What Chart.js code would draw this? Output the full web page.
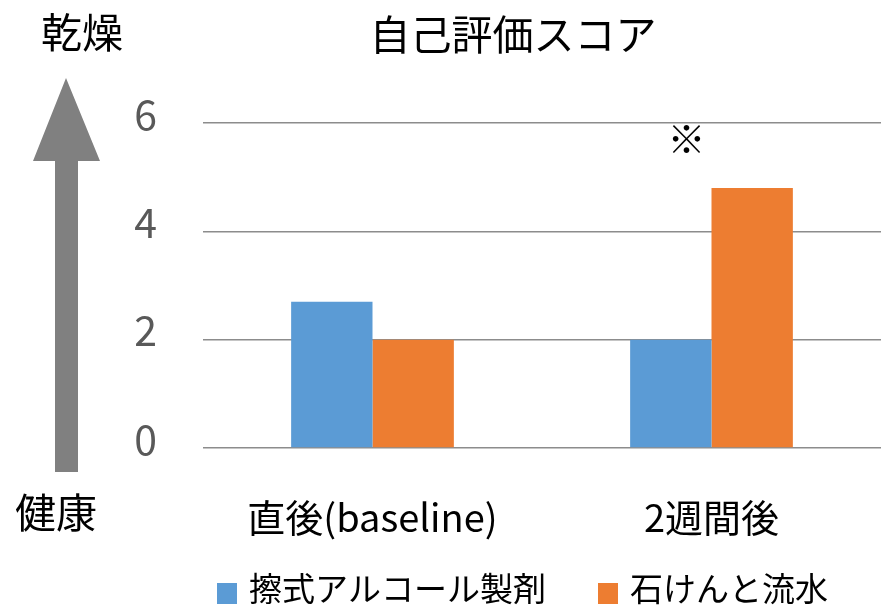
<!DOCTYPE html>
<html>
<head>
<meta charset="utf-8">
<script src="https://cdn.jsdelivr.net/npm/chart.js@4/dist/chart.umd.min.js"></script>
<style>
  html, body { margin: 0; padding: 0; background: #fff; }
  #wrap { width: 881px; height: 607px; position: relative; }
</style>
</head>
<body>
<div id="wrap"><canvas id="chart"></canvas></div>
<script>
const FONT = '"Noto Sans CJK JP", "Noto Sans", sans-serif';

const categories = ['直後(baseline)', '2週間後'];
const alcoholScores = [2.7, 2.0];
const soapScores = [2.0, 4.8];
const seriesNames = ['擦式アルコール製剤', '石けんと流水'];
const yTicks = [0, 2, 4, 6];

const titleText = '自己評価スコア';
const topLabel = '乾燥';
const bottomLabel = '健康';
const markText = '※';

const blue = '#5B9BD5';
const orange = '#ED7D31';

// title, side arrow, significance mark and legend
const decorations = {
    id: 'decorations',
    afterDraw(c) {
        const ctx = c.ctx;
        const x = c.scales.x;
        const y = c.scales.y;
        ctx.save();

        ctx.fillStyle = '#000';
        ctx.textAlign = 'center';
        ctx.textBaseline = 'middle';
        ctx.font = '41px ' + FONT;
        ctx.fillText(titleText, 513, 34);

        ctx.font = '41px ' + FONT;
        ctx.fillText(topLabel, 82, 32);
        ctx.fillText(bottomLabel, 56, 512);

        // arrow pointing up
        ctx.fillStyle = '#808080';
        ctx.beginPath();
        ctx.moveTo(66, 78);
        ctx.lineTo(100, 161);
        ctx.lineTo(78, 161);
        ctx.lineTo(78, 472);
        ctx.lineTo(55, 472);
        ctx.lineTo(55, 161);
        ctx.lineTo(33, 161);
        ctx.closePath();
        ctx.fill();

        // mark above the second group
        ctx.fillStyle = '#000';
        ctx.font = '38px ' + FONT;
        ctx.fillText(markText, x.getPixelForValue(1) - 25, y.getPixelForValue(5.72));

        // legend
        const colors = [blue, orange];
        const starts = [217, 598];
        ctx.font = '33px ' + FONT;
        ctx.textAlign = 'left';
        seriesNames.forEach((name, i) => {
            ctx.fillStyle = colors[i];
            ctx.fillRect(starts[i], 583, 20, 21);
            ctx.fillStyle = '#000';
            ctx.fillText(name, starts[i] + 32, 588);
        });

        ctx.restore();
    }
};

new Chart(document.getElementById('chart'), {
    type: 'bar',
    data: {
        labels: categories,
        datasets: [
            { label: seriesNames[0], data: alcoholScores, backgroundColor: blue },
            { label: seriesNames[1], data: soapScores, backgroundColor: orange }
        ]
    },
    options: {
        responsive: true,
        maintainAspectRatio: false,
        animation: false,
        layout: { padding: { top: 123, right: -3, bottom: 0, left: 0 } },
        datasets: { bar: { categoryPercentage: 0.48, barPercentage: 1.0 } },
        plugins: {
            legend: { display: false },
            title: { display: false },
            tooltip: { enabled: false }
        },
        scales: {
            x: {
                grid: { display: false },
                border: { display: false },
                ticks: { color: '#000', padding: 39, font: { family: FONT, size: 38 } },
                afterFit(s) { s.height = 159; }
            },
            y: {
                min: 0,
                max: 6,
                afterBuildTicks(s) { s.ticks = yTicks.map(v => ({ value: v })); },
                grid: { color: '#8c8c8c', lineWidth: 1.5, drawTicks: false },
                border: { display: false },
                ticks: { color: '#595959', padding: 46, labelOffset: -9, font: { family: FONT, size: 41 } },
                afterFit(s) { s.width = 203; }
            }
        }
    },
    plugins: [decorations]
});
</script>
</body>
</html>
